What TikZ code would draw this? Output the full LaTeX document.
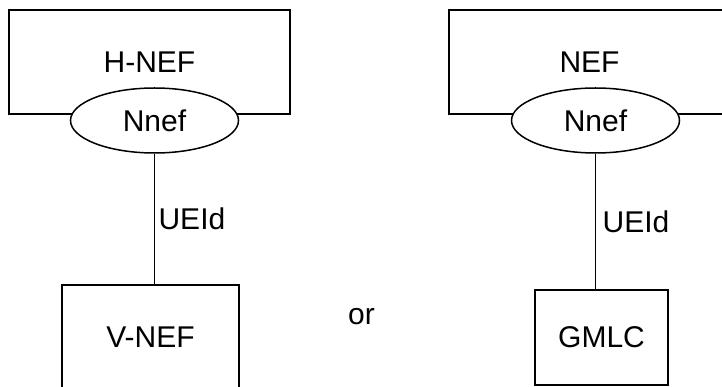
\documentclass[tikz,border=0pt]{standalone}
\usepackage{fontspec}
\setmainfont{Liberation Sans}
\usetikzlibrary{shapes.geometric}
\begin{document}
\begin{tikzpicture}[x=1pt,y=-1pt,line width=1.5pt,
    every node/.style={font=\fontsize{30}{35}\selectfont},
    nfbox/.style={draw,rectangle,inner sep=0pt},
    svcif/.style={draw,ellipse,fill=white,inner sep=0pt,minimum width=168pt,minimum height=65pt}]
    \useasboundingbox (0,0) rectangle (722,387);

    % left: H-NEF towards V-NEF
    \node[nfbox,minimum width=281pt,minimum height=104pt] (hnef) at (149.5,62) {H-NEF};
    \node[svcif] (hnnef) at (154.5,120.5) {Nnef};
    \node[nfbox,minimum width=177pt,minimum height=104pt] (vnef) at (150.5,337) {V-NEF};
    \draw (hnnef.south) -- (hnnef.south |- vnef.north) node[midway,right]{UEId};

    \node (or) at (361.5,316.5) {or};

    % right: NEF towards GMLC
    \node[nfbox,minimum width=281pt,minimum height=104pt] (nef) at (589.5,62) {NEF};
    \node[svcif] (nnef) at (595.5,120.5) {Nnef};
    \node[nfbox,minimum width=133pt,minimum height=95pt] (gmlc) at (601.5,337.5) {GMLC};
    \draw (nnef.south) -- (nnef.south |- gmlc.north) node[midway,right,xshift=3pt]{UEId};
\end{tikzpicture}
\end{document}
